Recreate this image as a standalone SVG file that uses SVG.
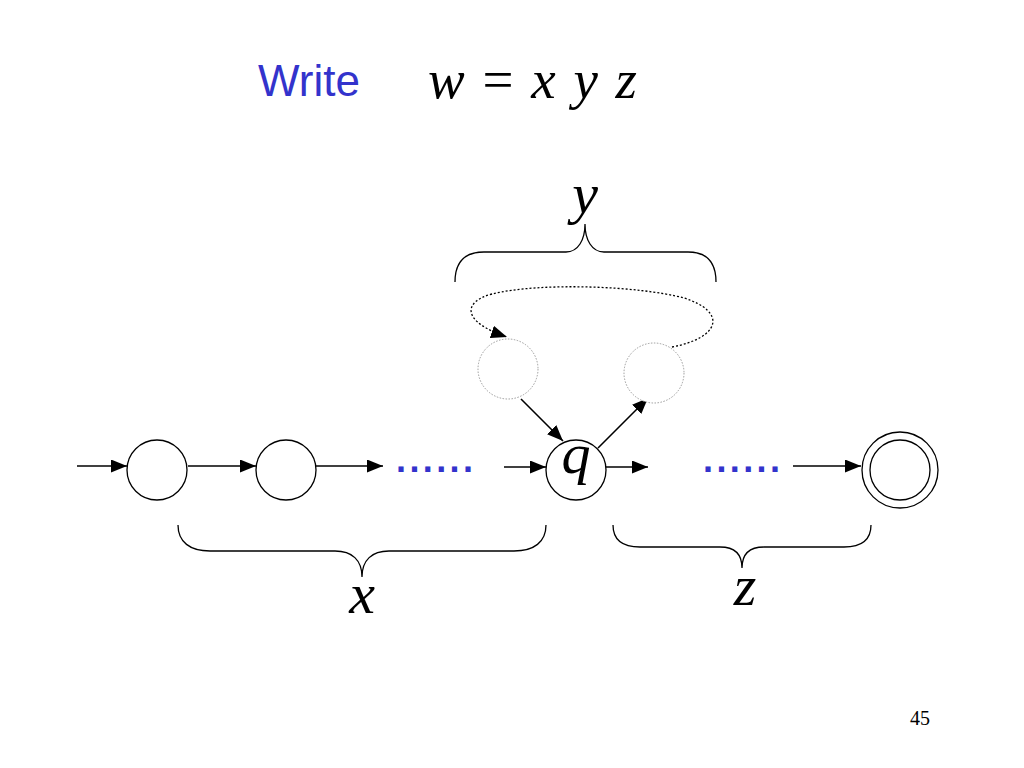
<svg xmlns="http://www.w3.org/2000/svg" width="1024" height="768" viewBox="0 0 1024 768">
<defs>
<style>
.st{fill:#fff;stroke:#000;stroke-width:1.3}
.ghost{fill:#fff;stroke:#9a9a9a;stroke-width:1;stroke-dasharray:1.5 1.5}
.edge{fill:none;stroke:#000;stroke-width:1.6}
.loop{fill:none;stroke:#000;stroke-width:1.3;stroke-dasharray:2 2}
.brace{fill:none;stroke:#000;stroke-width:1.3}
.math{font-family:"Liberation Serif","Times New Roman",serif;font-style:italic;fill:#000}
.blue{font-family:"Liberation Sans",Arial,sans-serif;fill:#3333cc}
.dots{font-family:"Liberation Sans",Arial,sans-serif;fill:#3333cc;font-size:36px;font-weight:bold;letter-spacing:3.4px}
</style>
<marker id="ah" viewBox="0 0 16 13" refX="16" refY="6.5" markerWidth="16" markerHeight="13" markerUnits="userSpaceOnUse" orient="auto">
<path d="M0,0 L16,6.5 L0,13 Z" fill="#000"/>
</marker>
</defs>
<rect width="1024" height="768" fill="#fff"/>

<g id="title">
<text class="blue" x="258" y="96" font-size="44">Write</text>
<text class="math" x="428" y="98" font-size="55" word-spacing="4">w<tspan font-style="normal"> = </tspan>x y z</text>
</g>

<g id="connectors">
<line class="edge" x1="77" y1="466" x2="127" y2="466" marker-end="url(#ah)"/>
<line class="edge" x1="188" y1="466" x2="256" y2="466" marker-end="url(#ah)"/>
<line class="edge" x1="316" y1="466" x2="383" y2="466" marker-end="url(#ah)"/>
<line class="edge" x1="504" y1="467" x2="546" y2="467" marker-end="url(#ah)"/>
<line class="edge" x1="606" y1="467" x2="648" y2="467" marker-end="url(#ah)"/>
<line class="edge" x1="793" y1="466" x2="861" y2="466" marker-end="url(#ah)"/>
<line class="edge" x1="521" y1="399" x2="563" y2="441" marker-end="url(#ah)"/>
<line class="edge" x1="598" y1="448" x2="648" y2="398" marker-end="url(#ah)"/>
<path class="loop" d="M672,347 C720,338 728,312 684,298 C640,286 540,282 492,294 C462,302 462,322 507,337" marker-end="url(#ah)"/>
</g>

<g id="dots1"><text class="dots" x="396" y="472">......</text></g>
<g id="dots2"><text class="dots" x="703" y="472">......</text></g>

<g id="s1"><circle class="st" cx="157" cy="470" r="30"/></g>
<g id="s2"><circle class="st" cx="286" cy="470" r="30"/></g>
<g id="q"><circle class="st" cx="576" cy="470" r="30"/><text class="math" x="576" y="473" font-size="58" text-anchor="middle">q</text></g>
<g id="final"><circle class="st" cx="900" cy="470" r="38"/><circle class="st" cx="900" cy="470" r="30"/></g>
<g id="loopA"><circle class="ghost" cx="508" cy="369" r="30"/></g>
<g id="loopB"><circle class="ghost" cx="654" cy="373" r="30"/></g>

<g id="braceY">
<path class="brace" d="M455,282 C455,262 464,252 484,252 L566,252 C578,252 585,240 585,224 C585,240 592,252 604,252 L688,252 C707,252 716,262 716,282"/>
<text class="math" x="585" y="213" font-size="58" text-anchor="middle">y</text>
</g>
<g id="braceX">
<path class="brace" d="M178,525 C178,542 190,551 210,551 L335,551 C352,551 362,560 362,577 C362,560 372,551 389,551 L514,551 C534,551 546,542 546,525"/>
<text class="math" x="362" y="613" font-size="58" text-anchor="middle">x</text>
</g>
<g id="braceZ">
<path class="brace" d="M613,525 C613,540 622,547 640,547 L720,547 C735,547 742,555 742,568 C742,555 749,547 764,547 L844,547 C862,547 871,540 871,525"/>
<text class="math" x="745" y="605" font-size="58" text-anchor="middle">z</text>
</g>

<g id="page"><text x="920" y="725" font-family="Liberation Serif,serif" font-size="20" text-anchor="middle">45</text></g>
</svg>
